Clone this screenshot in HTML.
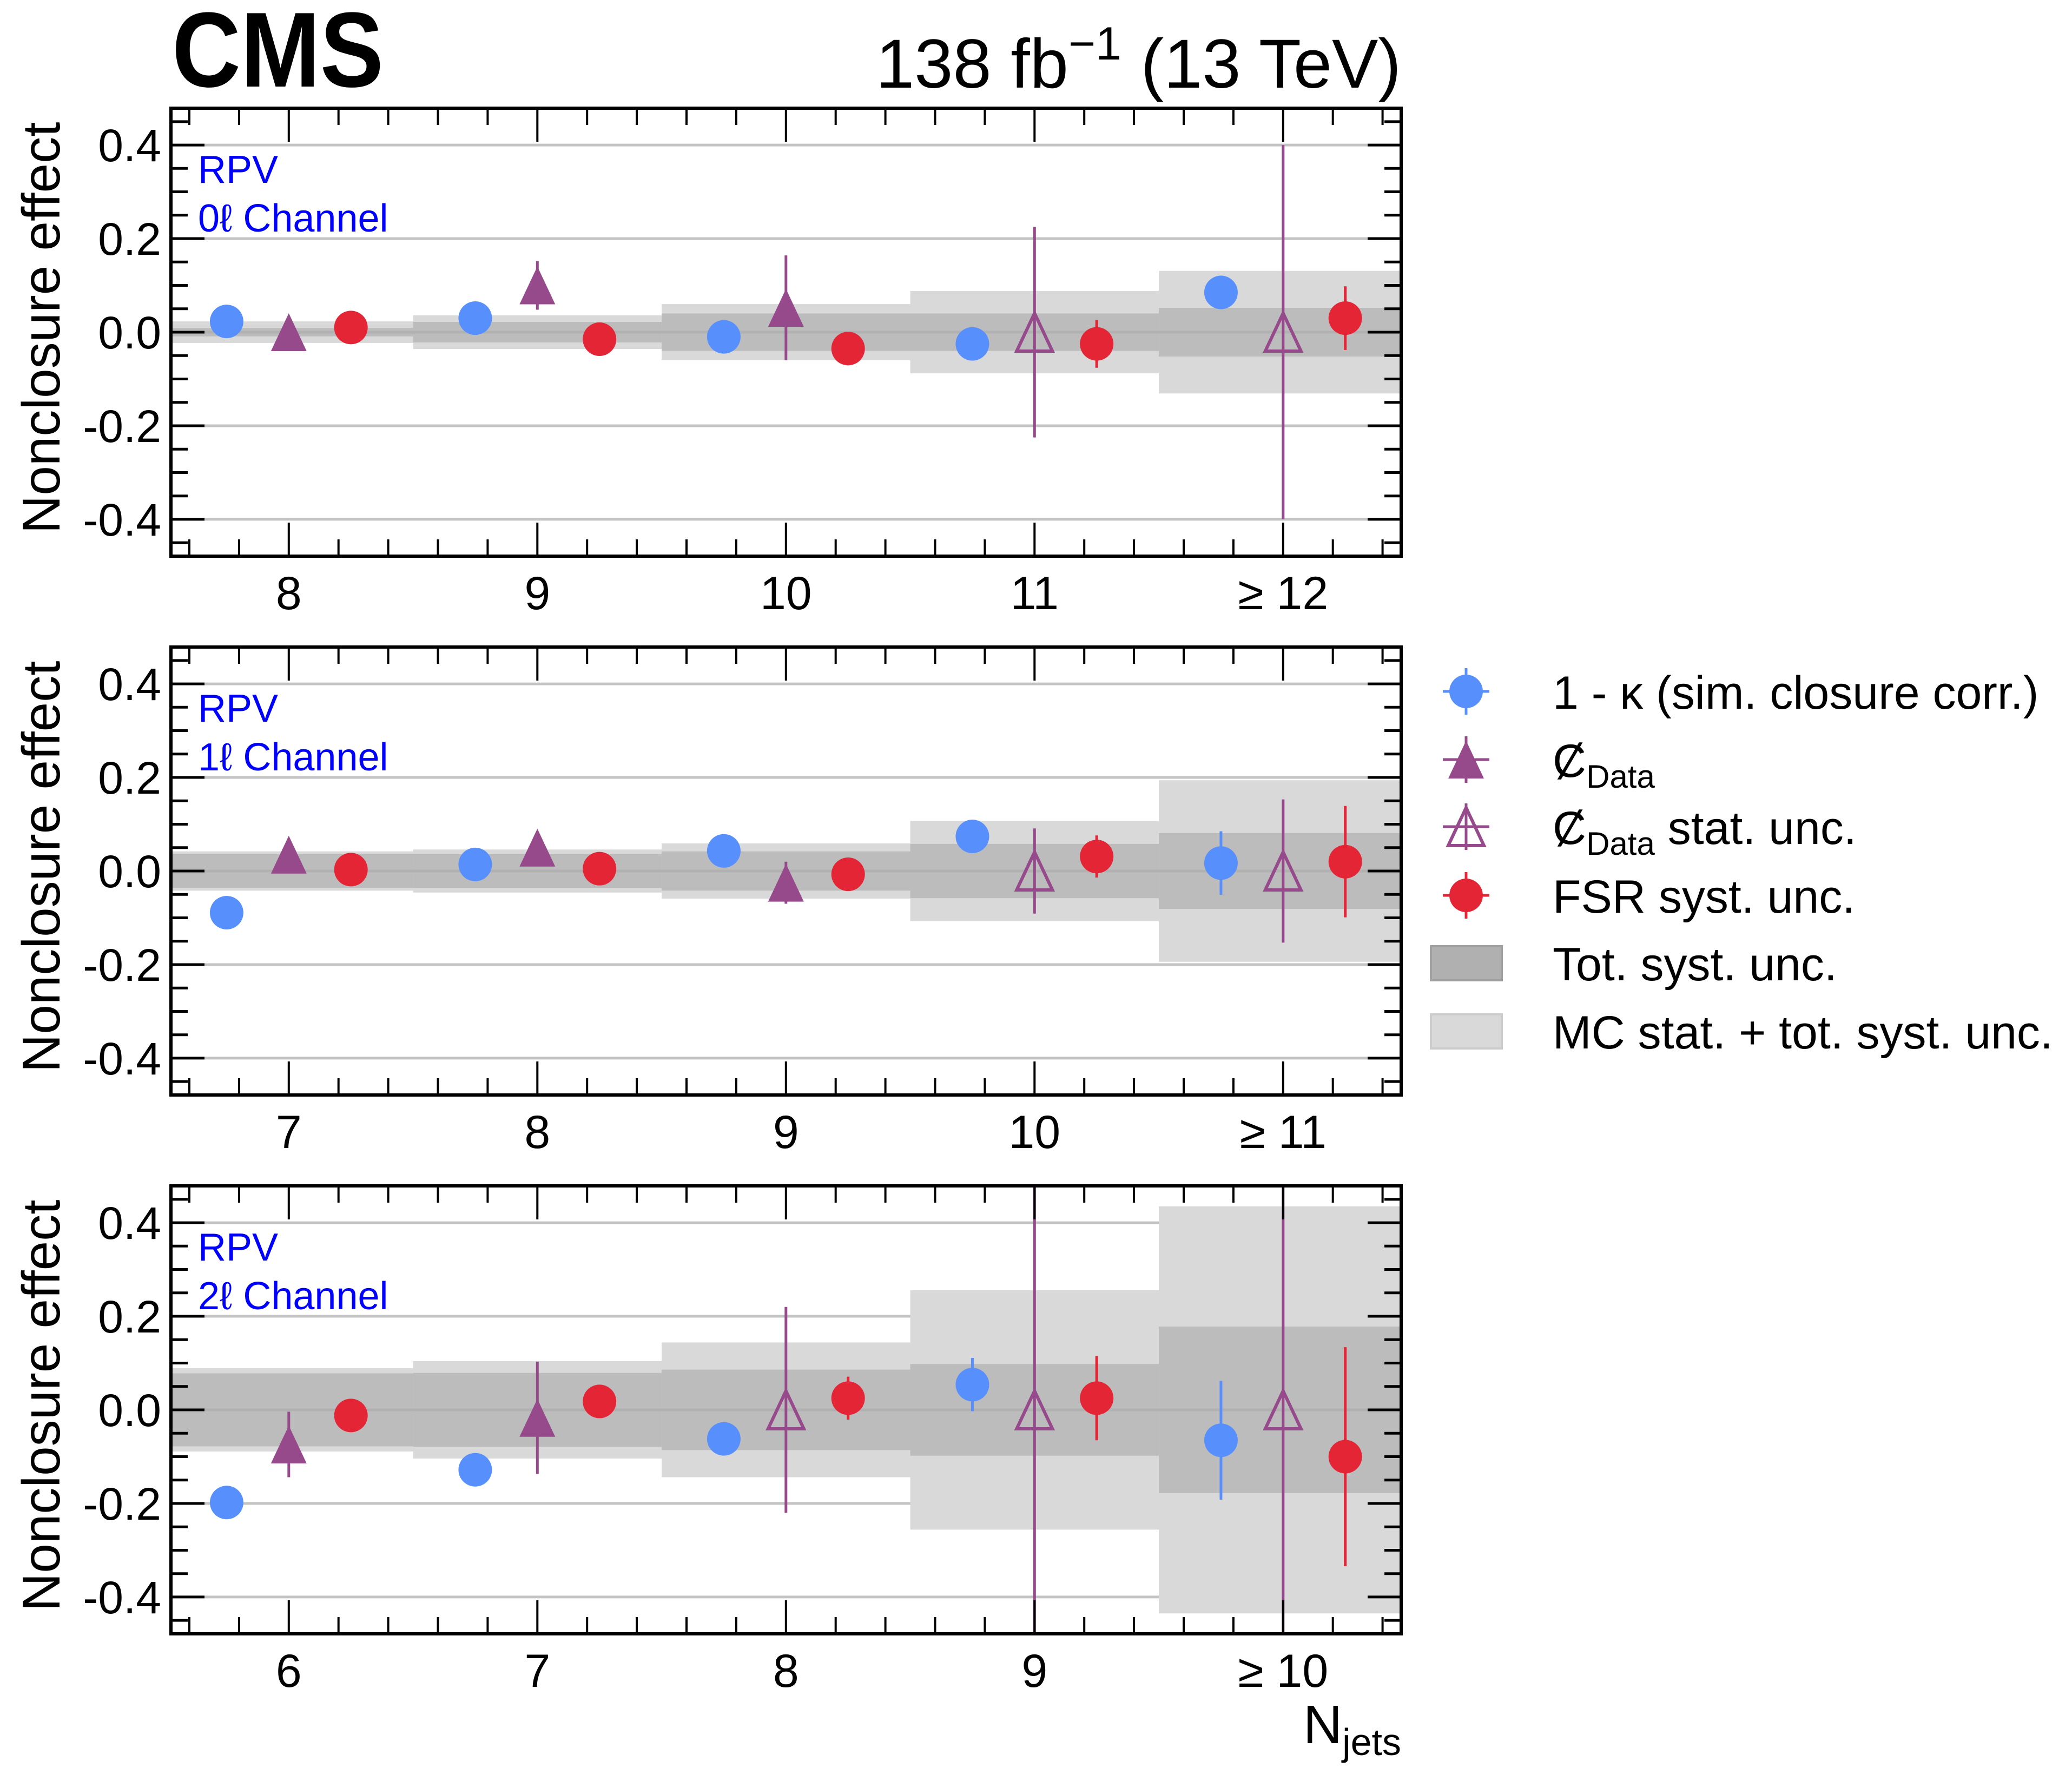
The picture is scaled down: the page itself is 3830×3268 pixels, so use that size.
<!DOCTYPE html>
<html><head><meta charset="utf-8"><style>
html,body{margin:0;padding:0;background:#fff}
svg{display:block}
text{font-family:"Liberation Sans",Arial,sans-serif}
</style></head><body>
<svg id="chart" xmlns="http://www.w3.org/2000/svg" width="3830" height="3268" viewBox="0 0 3830 3268">
<rect width="3830" height="3268" fill="#fff"/>
<text x="318" y="160" font-size="176" font-weight="bold" transform="translate(318 160) scale(1 1.12) translate(-318 -160)">CMS</text>
<text x="2590" y="162" font-size="128" text-anchor="end">138 fb<tspan dy="-52" font-size="86">−1</tspan><tspan dy="52"> (13 TeV)</tspan></text>
<text x="2590" y="3222" font-size="100" text-anchor="end">N<tspan dy="22" font-size="70">jets</tspan></text>
<g id="panels"></g>
<g id="legend"></g>
</svg>
<script>
// ---- data ----
const channelLabels = ['0ℓ Channel', '1ℓ Channel', '2ℓ Channel'];
const cats0 = ['8', '9', '10', '11', '≥ 12'];
const cats1 = ['7', '8', '9', '10', '≥ 11'];
const cats2 = ['6', '7', '8', '9', '≥ 10'];
const firstBin = [8, 7, 6];

const kappa0 = [0.023, 0.030, -0.010, -0.025, 0.085];
const kappaErr0 = [0.005, 0.005, 0.005, 0.008, 0.025];
const kappa1 = [-0.089, 0.014, 0.043, 0.074, 0.017];
const kappaErr1 = [0.005, 0.005, 0.005, 0.005, 0.068];
const kappa2 = [-0.198, -0.128, -0.062, 0.054, -0.065];
const kappaErr2 = [0.005, 0.005, 0.005, 0.057, 0.127];

const cdata0 = [0.0, 0.10, 0.052, 0, 0];
const cdataErr0 = [0.005, 0.052, 0.112, 0.225, 0.40];
const cdataHollow0 = [false, false, false, true, true];
const cdata1 = [0.035, 0.050, -0.025, 0, 0];
const cdataErr1 = [0.005, 0.005, 0.045, 0.091, 0.153];
const cdataHollow1 = [false, false, false, true, true];
const cdata2 = [-0.074, -0.017, 0, 0, 0];
const cdataErr2 = [0.070, 0.120, 0.22, 0.6, 0.6];
const cdataHollow2 = [false, false, true, true, true];

const fsr0 = [0.010, -0.015, -0.035, -0.025, 0.030];
const fsrErr0 = [0.005, 0.005, 0.005, 0.051, 0.068];
const fsr1 = [0.003, 0.005, -0.007, 0.031, 0.020];
const fsrErr1 = [0.005, 0.005, 0.005, 0.045, 0.119];
const fsr2 = [-0.012, 0.018, 0.025, 0.025, -0.100];
const fsrErr2 = [0.005, 0.005, 0.046, 0.090, 0.234];

const syst0 = [0.009, 0.022, 0.040, 0.040, 0.052];
const tot0 = [0.023, 0.036, 0.060, 0.088, 0.131];
const syst1 = [0.036, 0.036, 0.042, 0.058, 0.081];
const tot1 = [0.042, 0.046, 0.059, 0.107, 0.194];
const syst2 = [0.078, 0.079, 0.086, 0.098, 0.178];
const tot2 = [0.089, 0.104, 0.144, 0.256, 0.435];

const yTicks = [-0.4, -0.2, 0.0, 0.2, 0.4];
const yTickLabels = ['-0.4', '-0.2', '0.0', '0.2', '0.4'];

// ---- layout ----
const NS = 'http://www.w3.org/2000/svg';
const L = 316, R = 2590, PH = 828, panelTops = [200, 1196, 2192];
const PXX = 459.5, YMAX = 0.4787;
const BLUE = '#5790fc', PURPLE = '#964a8b', RED = '#e42536', DARK = '#bcbcbc', LIGHT = '#d9d9d9';

function mk(tag, attrs, parent) {
  const e = document.createElementNS(NS, tag);
  for (const k in attrs) e.setAttribute(k, attrs[k]);
  parent.appendChild(e);
  return e;
}

const cats = [cats0, cats1, cats2];
const kap = [kappa0, kappa1, kappa2], kapE = [kappaErr0, kappaErr1, kappaErr2];
const cd = [cdata0, cdata1, cdata2], cdE = [cdataErr0, cdataErr1, cdataErr2];
const cdH = [cdataHollow0, cdataHollow1, cdataHollow2];
const fs = [fsr0, fsr1, fsr2], fsE = [fsrErr0, fsrErr1, fsrErr2];
const sy = [syst0, syst1, syst2], to = [tot0, tot1, tot2];

const root = document.getElementById('panels');

function circle(g, cx, cy, color) {
  return mk('ellipse', {cx: cx, cy: cy, rx: 31, ry: 31, fill: color}, g);
}
function triangle(g, cx, cy, color, hollow) {
  const h = 70, w = 66;
  const pts = `${cx},${cy - h/2} ${cx - w/2},${cy + h/2} ${cx + w/2},${cy + h/2}`;
  return mk('polygon', hollow ? {points: pts, fill: 'none', stroke: color, 'stroke-width': 6} : {points: pts, fill: color}, g);
}

for (let p = 0; p < 3; p++) {
  const top = panelTops[p], bot = top + PH, mid = top + PH / 2;
  const xmin = firstBin[p] - 0.474;
  const xs = v => L + (v - xmin) * PXX;
  const ys = v => mid - v * (PH / 2) / YMAX;
  const g = mk('g', {}, root);
  
  
  const clip = mk('clipPath', {id: 'clip' + p}, g);
  mk('rect', {x: L, y: top, width: R - L, height: PH}, clip);
  const plot = mk('g', {'clip-path': `url(#clip${p})`}, g);

  yTicks.forEach(t => {
    const gl = mk('line', {x1: L, x2: R, y1: ys(t), y2: ys(t), stroke: '#c4c4c4', 'stroke-width': 5}, plot);
    
    
  });
  for (let i = 0; i < 5; i++) {
    const x0 = xs(firstBin[p] + i - 0.5), x1 = xs(firstBin[p] + i + 0.5);
    const b1 = mk('rect', {x: x0, y: ys(to[p][i]), width: x1 - x0, height: ys(-to[p][i]) - ys(to[p][i]), fill: LIGHT}, plot);
    
    
    const b2 = mk('rect', {x: x0, y: ys(sy[p][i]), width: x1 - x0, height: ys(-sy[p][i]) - ys(sy[p][i]), fill: DARK}, plot);
    
    
  }
  mk('line', {x1: L, x2: R, y1: ys(0), y2: ys(0), stroke: '#aaaaaa', 'stroke-width': 5, opacity: 0.6}, plot);

  for (let i = 0; i < 5; i++) {
    const c = firstBin[p] + i;
    let x = xs(c - 0.25);
    let e = mk('line', {x1: x, x2: x, y1: ys(kap[p][i] + kapE[p][i]), y2: ys(kap[p][i] - kapE[p][i]), stroke: BLUE, 'stroke-width': 5}, plot);
    
    
    let m = circle(plot, x, ys(kap[p][i]), BLUE);
    
    
    x = xs(c);
    e = mk('line', {x1: x, x2: x, y1: ys(cd[p][i] + cdE[p][i]), y2: ys(cd[p][i] - cdE[p][i]), stroke: PURPLE, 'stroke-width': 5}, plot);
    
    
    m = triangle(plot, x, ys(cd[p][i]), PURPLE, cdH[p][i]);
    
    
    x = xs(c + 0.25);
    e = mk('line', {x1: x, x2: x, y1: ys(fs[p][i] + fsE[p][i]), y2: ys(fs[p][i] - fsE[p][i]), stroke: RED, 'stroke-width': 5}, plot);
    
    
    m = circle(plot, x, ys(fs[p][i]), RED);
    
    
  }

  for (let v = Math.ceil((xmin) * 5) / 5; v <= xmin + (R - L) / PXX + 1e-6; v += 0.2) {
    const vv = Math.round(v * 10) / 10;
    const major = Math.abs(vv - Math.round(vv)) < 1e-6;
    const len = major ? 62 : 31, x = xs(vv);
    mk('line', {x1: x, x2: x, y1: bot, y2: bot - len, stroke: '#000', 'stroke-width': 4}, g);
    mk('line', {x1: x, x2: x, y1: top, y2: top + len, stroke: '#000', 'stroke-width': 4}, g);
  }
  cats[p].forEach((lab, i) => {
    const t = mk('text', {x: xs(firstBin[p] + i), y: bot + 98, 'font-size': 86, 'text-anchor': 'middle'}, g);
    t.textContent = lab;
    
    
  });
  for (let k = -9; k <= 9; k++) {
    const v = k * 0.05, y = ys(v);
    const major = k % 4 === 0;
    const len = major ? 62 : 31;
    mk('line', {x1: L, x2: L + len, y1: y, y2: y, stroke: '#000', 'stroke-width': 5}, g);
    mk('line', {x1: R, x2: R - len, y1: y, y2: y, stroke: '#000', 'stroke-width': 5}, g);
  }
  yTicks.forEach((t, i) => {
    const tx = mk('text', {x: 298, y: ys(t) + 30, 'font-size': 84, 'text-anchor': 'end'}, g);
    tx.textContent = yTickLabels[i];
    
    
  });
  mk('rect', {x: L, y: top, width: R - L, height: PH, fill: 'none', stroke: '#000', 'stroke-width': 6}, g);
  const yt = mk('text', {x: 0, y: 0, 'font-size': 98, 'text-anchor': 'middle', transform: `translate(110 ${mid - 8}) rotate(-90)`}, g);
  yt.textContent = 'Nonclosure effect';
  
  
  const r1 = mk('text', {x: 366, y: top + 138, 'font-size': 72, fill: '#0000ff'}, g);
  r1.textContent = 'RPV';
  
  
  const r2 = mk('text', {x: 366, y: top + 228, 'font-size': 72, fill: '#0000ff'}, g);
  r2.textContent = channelLabels[p];
  
  
}

// ---- legend ----
const lg = document.getElementById('legend');
const LX = 2710, TX = 2870;
function legText(y, html, name) {
  const t = mk('text', {x: TX, y: y + 32, 'font-size': 86}, lg);
  t.innerHTML = html;
  
  
}
function legErr(y, color) {
  mk('line', {x1: LX - 43, x2: LX + 43, y1: y, y2: y, stroke: color, 'stroke-width': 5}, lg);
  mk('line', {x1: LX, x2: LX, y1: y - 43, y2: y + 43, stroke: color, 'stroke-width': 5}, lg);
}
legErr(1278, BLUE); circle(lg, LX, 1278, BLUE);
legText(1278, '1 - κ (sim. closure corr.)', 'legend-entry-kappa');
legErr(1404, PURPLE); triangle(lg, LX, 1404, PURPLE, false);
legText(1404, 'Ȼ<tspan font-size="60" dy="20">Data</tspan>', 'legend-entry-cdata');
legErr(1528, PURPLE); triangle(lg, LX, 1528, PURPLE, true);
legText(1528, 'Ȼ<tspan font-size="60" dy="20">Data</tspan><tspan dy="-20"> stat. unc.</tspan>', 'legend-entry-cdata-stat');
legErr(1655, RED); circle(lg, LX, 1655, RED);
legText(1655, 'FSR syst. unc.', 'legend-entry-fsr');
mk('rect', {x: 2645, y: 1749, width: 131, height: 63, fill: '#b0b0b0', stroke: '#a0a0a0', 'stroke-width': 4}, lg);
legText(1780, 'Tot. syst. unc.', 'legend-entry-syst');
mk('rect', {x: 2645, y: 1875, width: 131, height: 63, fill: '#d9d9d9', stroke: '#cccccc', 'stroke-width': 4}, lg);
legText(1906, 'MC stat. + tot. syst. unc.', 'legend-entry-mc-stat');
</script>
</body></html>
